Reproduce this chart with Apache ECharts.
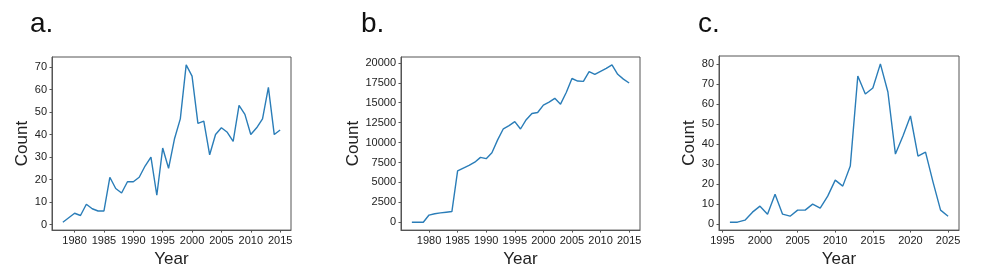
<!DOCTYPE html>
<html>
<head>
<meta charset="utf-8">
<script src="https://cdn.jsdelivr.net/npm/echarts@6/dist/echarts.min.js"></script>
<style>
html,body{margin:0;padding:0;background:#fff;}
#chart{width:987px;height:273px;}
</style>
</head>
<body>
<div id="chart"></div>
<script>
// ---- Data ----
const yearsA = [1978,1979,1980,1981,1982,1983,1984,1985,1986,1987,1988,1989,1990,1991,1992,1993,1994,1995,1996,1997,1998,1999,2000,2001,2002,2003,2004,2005,2006,2007,2008,2009,2010,2011,2012,2013,2014,2015];
const countsA = [1,3,5,4,9,7,6,6,21,16,14,19,19,21,26,30,13,34,25,38,47,71,66,45,46,31,40,43,41,37,53,49,40,43,47,61,40,42];

const yearsB = [1977,1978,1979,1980,1981,1982,1983,1984,1985,1986,1987,1988,1989,1990,1991,1992,1993,1994,1995,1996,1997,1998,1999,2000,2001,2002,2003,2004,2005,2006,2007,2008,2009,2010,2011,2012,2013,2014,2015];
const countsB = [0,0,0,900,1060,1180,1260,1340,6450,6800,7130,7530,8140,7980,8710,10340,11730,12130,12620,11700,12870,13650,13770,14700,15070,15550,14820,16290,18040,17720,17680,18900,18570,18940,19300,19750,18570,17960,17470];

const yearsC = [1996,1997,1998,1999,2000,2001,2002,2003,2004,2005,2006,2007,2008,2009,2010,2011,2012,2013,2014,2015,2016,2017,2018,2019,2020,2021,2022,2023,2024,2025];
const countsC = [1,1,2,6,9,5,15,5,4,7,7,10,8,14,22,19,29,74,65,68,80,66,35,44,54,34,36,21,7,4];

const xTicksA = [1980,1985,1990,1995,2000,2005,2010,2015];
const yTicksA = [0,10,20,30,40,50,60,70];
const xTicksB = [1980,1985,1990,1995,2000,2005,2010,2015];
const yTicksB = [0,2500,5000,7500,10000,12500,15000,17500,20000];
const xTicksC = [1995,2000,2005,2010,2015,2020,2025];
const yTicksC = [0,10,20,30,40,50,60,70,80];

const panelLabels = ['a.','b.','c.'];
const xName = 'Year';
const yName = 'Count';

// ---- Layout ----
const FONT = 'Liberation Sans, Arial, Helvetica, sans-serif';
const TXT = '#222';
const FRAME = '#555';
const LINE = '#2a7db8';

const panels = [
  {x: yearsA, y: countsA, xt: xTicksA, yt: yTicksA, grid: {left: 52, top: 57, width: 239, height: 178}, nameGap: 19, label: {x: 30, y: 24}},
  {x: yearsB, y: countsB, xt: xTicksB, yt: yTicksB, grid: {left: 401, top: 57, width: 239, height: 178}, nameGap: 39, label: {x: 361, y: 24}},
  {x: yearsC, y: countsC, xt: xTicksC, yt: yTicksC, grid: {left: 719, top: 56, width: 240, height: 178}, nameGap: 20, label: {x: 698, y: 24}}
];

function pad(arr) {
  const mn = Math.min.apply(null, arr), mx = Math.max.apply(null, arr);
  const m = (mx - mn) * 0.05;
  return [mn - m, mx + m];
}

const grids = [], xAxes = [], yAxes = [], series = [], graphics = [];
panels.forEach((p, i) => {
  grids.push(Object.assign({show: true, borderColor: FRAME, borderWidth: 1, backgroundColor: 'transparent'}, p.grid));
  const xr = pad(p.x), yr = pad(p.y);
  xAxes.push({
    type: 'value', gridIndex: i, min: xr[0], max: xr[1],
    name: xName, nameLocation: 'middle', nameGap: 15,
    nameTextStyle: {fontFamily: FONT, fontSize: 17, color: TXT},
    axisLine: {show: true, onZero: false, lineStyle: {color: FRAME, width: 1}},
    axisTick: {show: true, inside: false, length: 2.5, lineStyle: {color: FRAME}, customValues: p.xt},
    axisLabel: {show: true, margin: 5, fontFamily: FONT, fontSize: 11, color: TXT, customValues: p.xt, formatter: v => String(v)},
    splitLine: {show: false}
  });
  yAxes.push({
    type: 'value', gridIndex: i, min: yr[0], max: yr[1],
    name: yName, nameLocation: 'middle', nameGap: p.nameGap, nameRotate: 90,
    nameTextStyle: {fontFamily: FONT, fontSize: 17, color: TXT},
    axisLine: {show: true, onZero: false, lineStyle: {color: FRAME, width: 1}},
    axisTick: {show: true, inside: false, length: 2.5, lineStyle: {color: FRAME}, customValues: p.yt},
    axisLabel: {show: true, margin: 5, fontFamily: FONT, fontSize: 11, color: TXT, customValues: p.yt, formatter: v => String(v)},
    splitLine: {show: false}
  });
  series.push({
    type: 'line', xAxisIndex: i, yAxisIndex: i,
    data: p.x.map((yr2, k) => [yr2, p.y[k]]),
    showSymbol: false, symbol: 'none',
    lineStyle: {color: LINE, width: 1.4},
    itemStyle: {color: LINE},
    animation: false
  });
  graphics.push({
    type: 'text', x: p.label.x, y: p.label.y,
    style: {text: panelLabels[i], fontFamily: FONT, fontSize: 28, fill: '#111', verticalAlign: 'middle', align: 'left'}
  });
});

const chart = echarts.init(document.getElementById('chart'), null, {renderer: 'canvas'});
chart.setOption({
  backgroundColor: '#ffffff',
  animation: false,
  grid: grids,
  xAxis: xAxes,
  yAxis: yAxes,
  series: series,
  graphic: graphics
});
</script>
</body>
</html>
